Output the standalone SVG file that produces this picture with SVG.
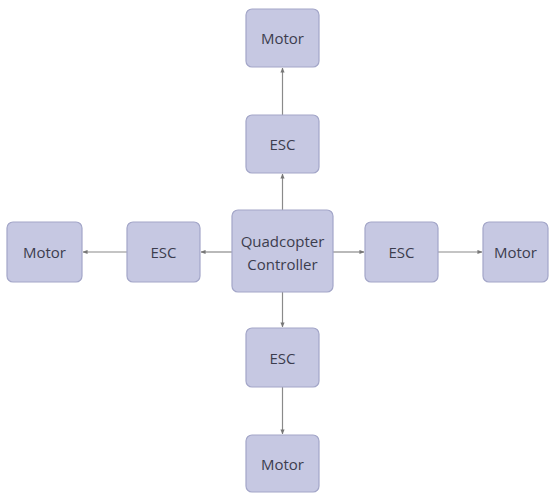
<svg xmlns="http://www.w3.org/2000/svg" width="555" height="494" viewBox="0 0 555 494">
<defs>
<style>
.box{fill:#c6c8e2;stroke:#a3a6c8;stroke-width:1.2}
.t{font-family:"Open Sans","Noto Sans",sans-serif;font-size:15px;fill:#3c3d4e;text-anchor:middle;dominant-baseline:central}
.c{stroke:#8a8a8a;stroke-width:1.2;fill:none;marker-end:url(#ah)}
</style>
<marker id="ah" viewBox="0 0 6 6" refX="5.5" refY="3" markerWidth="5" markerHeight="5" orient="auto" markerUnits="userSpaceOnUse">
<path d="M0,0.5 L6,3 L0,5.5 z" fill="#777"/>
</marker>
</defs>
<rect width="555" height="494" fill="#fff"/>
<g id="connectors">
<line class="c" x1="282.5" y1="115" x2="282.5" y2="68"/>
<line class="c" x1="282.5" y1="210" x2="282.5" y2="174"/>
<line class="c" x1="232" y1="252" x2="201" y2="252"/>
<line class="c" x1="127" y1="252" x2="83" y2="252"/>
<line class="c" x1="333" y1="252" x2="364" y2="252"/>
<line class="c" x1="438" y1="252" x2="482" y2="252"/>
<line class="c" x1="282.5" y1="292" x2="282.5" y2="327"/>
<line class="c" x1="282.5" y1="387" x2="282.5" y2="434"/>
</g>
<g id="motor-top"><rect class="box" x="246" y="9" width="73" height="58" rx="6"/><text class="t" x="282.5" y="38">Motor</text></g>
<g id="esc-top"><rect class="box" x="246" y="115" width="73" height="58" rx="6"/><text class="t" x="282.5" y="144">ESC</text></g>
<g id="controller"><rect class="box" x="232" y="210" width="101" height="82" rx="6"/><text class="t" x="282.5" y="241">Quadcopter</text><text class="t" x="282.5" y="264">Controller</text></g>
<g id="esc-left"><rect class="box" x="127" y="222" width="73" height="60" rx="6"/><text class="t" x="163.5" y="252">ESC</text></g>
<g id="motor-left"><rect class="box" x="7" y="222" width="75" height="60" rx="6"/><text class="t" x="44.5" y="252">Motor</text></g>
<g id="esc-right"><rect class="box" x="365" y="222" width="73" height="60" rx="6"/><text class="t" x="401.5" y="252">ESC</text></g>
<g id="motor-right"><rect class="box" x="483" y="222" width="65" height="60" rx="6"/><text class="t" x="515.5" y="252">Motor</text></g>
<g id="esc-bottom"><rect class="box" x="246" y="328" width="73" height="59" rx="6"/><text class="t" x="282.5" y="357.5">ESC</text></g>
<g id="motor-bottom"><rect class="box" x="246" y="435" width="73" height="57" rx="6"/><text class="t" x="282.5" y="463.5">Motor</text></g>
</svg>
